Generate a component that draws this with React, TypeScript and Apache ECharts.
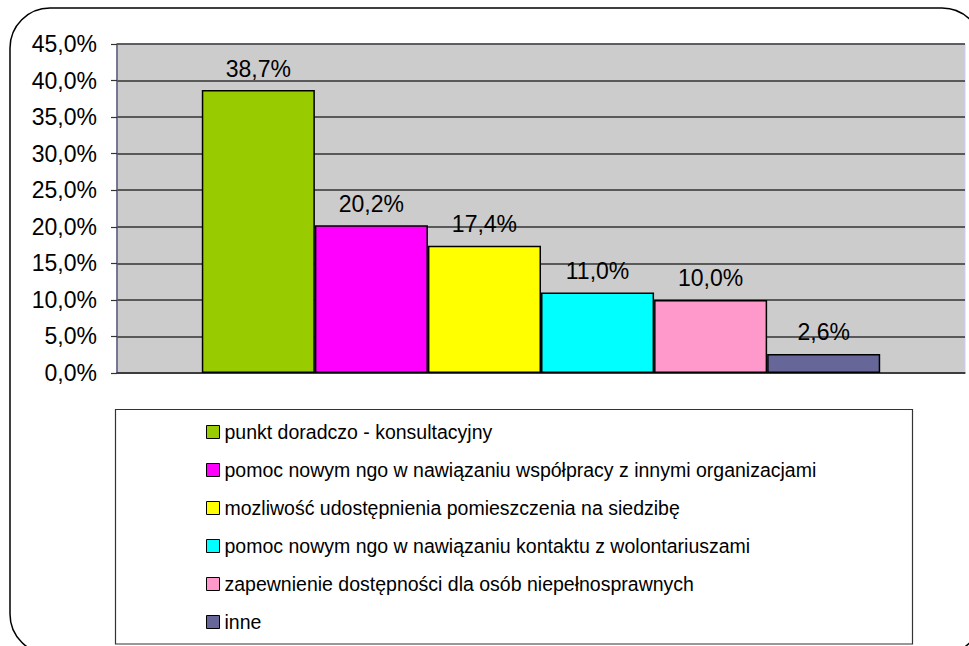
import React, { useEffect, useRef } from "react";
import * as echarts from "echarts";

const seriesNames = [
  "punkt doradczo - konsultacyjny",
  "pomoc nowym ngo w nawiązaniu współpracy z innymi organizacjami",
  "mozliwość udostępnienia pomieszczenia na siedzibę",
  "pomoc nowym ngo w nawiązaniu kontaktu z wolontariuszami",
  "zapewnienie dostępności dla osób niepełnosprawnych",
  "inne",
];
const seriesValues = [38.7, 20.2, 17.4, 11.0, 10.0, 2.6];
const seriesColors = ["#99cc00", "#ff00ff", "#ffff00", "#00ffff", "#ff99cc", "#666699"];
const categories = [""];

const fmt = (v: number) => v.toFixed(1).replace(".", ",") + "%";

export default function App() {
  const ref = useRef<HTMLDivElement>(null);
  useEffect(() => {
    document.body.style.margin = "0";
    const chart = echarts.init(ref.current!, null, { renderer: "svg" });
    const font = "Liberation Sans, Arial, sans-serif";
    chart.setOption({
      animation: false,
      backgroundColor: "#ffffff",
      textStyle: { fontFamily: font },
      grid: {
        left: 117,
        top: 44,
        right: 4,
        bottom: 273,
        show: true,
        backgroundColor: "#cccccc",
        borderColor: "#ccccff",
        borderWidth: 1,
      },
      graphic: [
        {
          type: "rect",
          z: -10,
          shape: { x: 10, y: 8, width: 972, height: 646, r: 40 },
          style: { fill: "none", stroke: "#000", lineWidth: 1.5 },
          silent: true,
        },
        {
          type: "rect",
          z: -5,
          shape: { x: 115.5, y: 409.5, width: 797, height: 234.5 },
          style: { fill: "#fff", stroke: "#333", lineWidth: 1.2 },
          silent: true,
        },
      ],
      legend: {
        orient: "vertical",
        left: 206,
        top: 422,
        icon: "rect",
        itemWidth: 13,
        itemHeight: 13,
        itemGap: 18,
        padding: 0,
        itemStyle: { borderColor: "#000", borderWidth: 1 },
        textStyle: { fontSize: 19.5, lineHeight: 20, color: "#000", fontFamily: font },
        data: seriesNames,
      },
      xAxis: {
        type: "category",
        data: categories,
        axisLine: { show: true, lineStyle: { color: "#333", width: 1.5 } },
        axisTick: { show: false },
        axisLabel: { show: false },
      },
      yAxis: {
        type: "value",
        min: 0,
        max: 45,
        interval: 5,
        axisLine: { show: true, lineStyle: { color: "#555577", width: 1.5 } },
        axisTick: { show: true, length: 6, lineStyle: { color: "#333", width: 1.2 } },
        axisLabel: {
          formatter: (v: number) => fmt(v),
          fontSize: 23,
          color: "#000",
          margin: 20,
          fontFamily: font,
        },
        splitLine: { show: true, lineStyle: { color: "#333", width: 1.5 } },
      },
      series: seriesNames.map((name, i) => ({
        name,
        type: "bar",
        data: [seriesValues[i]],
        barGap: "0%",
        barCategoryGap: "20%",
        itemStyle: { color: seriesColors[i], borderColor: "#000", borderWidth: 1.5 },
        label: {
          show: true,
          position: "top",
          distance: 10,
          formatter: (p: any) => fmt(p.value),
          fontSize: 23,
          color: "#000",
          fontFamily: font,
        },
      })),
    });
    return () => chart.dispose();
  }, []);
  return <div ref={ref} style={{ width: 969, height: 646 }} />;
}
